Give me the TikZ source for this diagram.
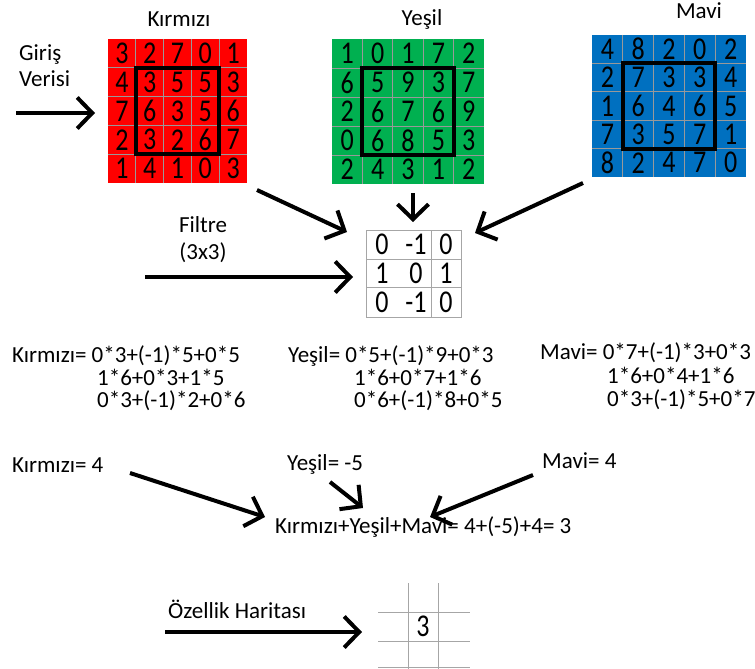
\documentclass[tikz,border=0pt]{standalone}
\usepackage{fontspec}
\usepackage{graphicx}
\setmainfont{Carlito}
\usetikzlibrary{arrows.meta, positioning, calc}
\definecolor{redch}{HTML}{FF0000}
\definecolor{greench}{HTML}{00B050}
\definecolor{bluech}{HTML}{0070C0}
\definecolor{gridgray}{HTML}{A6A6A6}
\newcommand{\tallnum}[1]{\scalebox{1}[1.22]{#1}}
\tikzset{
  txt/.style = {font=\fontsize{23}{23}\selectfont, inner sep=0pt, anchor=base west},
  digit/.style = {font=\fontsize{26}{26}\selectfont, inner sep=0pt},
  cell/.style = {black!40, line width=0.8pt},
  window/.style = {line width=4pt},
  bigarrow/.style = {line width=4pt, -{Straight Barb[length=15pt, width=31pt]}},
  filtergrid/.style = {gridgray, line width=1pt}
}

\begin{document}
\begin{tikzpicture}[x=1pt, y=-1pt]
  \useasboundingbox (0,0) rectangle (755,669);

  %% Input channels

  % Red
  \node[txt, anchor=base] (redtitle) at (179,27) {Kırmızı};
  \fill[redch] (108,39) rectangle (247,183);
  \foreach \k in {1,...,4} {
    \draw[cell] ({108+27.8*\k},39) -- ({108+27.8*\k},183);
    \draw[cell] (108,{39+28.8*\k}) -- (247,{39+28.8*\k});
  }
  \foreach \row [count=\r] in {{3,2,7,0,1},{4,3,5,5,3},{7,6,3,5,6},{2,3,2,6,7},{1,4,1,0,3}}
    \foreach \v [count=\c] in \row
      \node[digit] (red-\r-\c) at ({108+27.8*(\c-0.5)},{39+28.8*(\r-0.5)}) {\tallnum{\v}};
  \draw[window] (135.8,67.8) rectangle (219.2,154.2);

  % Green
  \node[txt, anchor=base] (greentitle) at (422,26) {Yeşil};
  \fill[greench] (332,39) rectangle (484,184);
  \foreach \k in {1,...,4} {
    \draw[cell] ({332+30.4*\k},39) -- ({332+30.4*\k},184);
    \draw[cell] (332,{39+29*\k}) -- (484,{39+29*\k});
  }
  \foreach \row [count=\r] in {{1,0,1,7,2},{6,5,9,3,7},{2,6,7,6,9},{0,6,8,5,3},{2,4,3,1,2}}
    \foreach \v [count=\c] in \row
      \node[digit] (green-\r-\c) at ({332+30.4*(\c-0.5)},{39+29*(\r-0.5)}) {\tallnum{\v}};
  \draw[window] (362.4,68) rectangle (453.6,155);

  % Blue
  \node[txt, anchor=base] (bluetitle) at (699,19) {Mavi};
  \fill[bluech] (592,35) rectangle (746,177);
  \foreach \k in {1,...,4} {
    \draw[cell] ({592+30.8*\k},35) -- ({592+30.8*\k},177);
    \draw[cell] (592,{35+28.4*\k}) -- (746,{35+28.4*\k});
  }
  \foreach \row [count=\r] in {{4,8,2,0,2},{2,7,3,3,4},{1,6,4,6,5},{7,3,5,7,1},{8,2,4,7,0}}
    \foreach \v [count=\c] in \row
      \node[digit] (blue-\r-\c) at ({592+30.8*(\c-0.5)},{35+28.4*(\r-0.5)}) {\tallnum{\v}};
  \draw[window] (622.8,63.4) rectangle (715.2,148.6);

  % Input label
  \node[txt] (inputA) at (19,60) {Giriş};
  \node[txt] (inputB) at (19,87) {Verisi};
  \coordinate (in-start) at (16,113);
  \coordinate (in-end) at (95,113);
  \draw[bigarrow] (in-start) -- (in-end);

  %% Filter
  \node[draw=gridgray, line width=1pt, minimum width=95pt, minimum height=87pt, inner sep=0pt] (filter) at (413.5,273.5) {};
  \draw[filtergrid] (431,230) -- (431,317);
  \draw[filtergrid] (366,259) -- (461,259);
  \draw[filtergrid] (366,287) -- (461,287);
  \foreach \row [count=\r] in {{0,-1,0},{1,0,1},{0,-1,0}}
    \foreach \v [count=\c] in \row {
      \pgfmathsetmacro{\xx}{{382,416,446}[\c-1]}
      \pgfmathsetmacro{\yy}{{244.5,273,302}[\r-1]}
      \node[digit] (filt-\r-\c) at (\xx,\yy) {\tallnum{\v}};
    }
  \node[txt, anchor=base] (filtA) at (203,232) {Filtre};
  \node[txt, anchor=base] (filtB) at (203,259) {(3x3)};
  \coordinate (filt-start) at (145,277);
  \coordinate (filt-end) at (353,277);
  \draw[bigarrow] (filt-start) -- (filt-end);

  % Channels to filter
  \coordinate (red-out) at (257,190);
  \coordinate (red-in) at (347,232);
  \coordinate (green-out) at (413,193);
  \coordinate (green-in) at (413,222);
  \coordinate (blue-out) at (583,183);
  \coordinate (blue-in) at (475,233);
  \draw[bigarrow] (red-out) -- (red-in);
  \draw[bigarrow] (green-out) -- (green-in);
  \draw[bigarrow] (blue-out) -- (blue-in);

  %% Products
  \node[txt] (redeqA) at (12,362) {Kırmızı= 0*3+(-1)*5+0*5};
  \node[txt] (redeqB) at (97,385) {1*6+0*3+1*5};
  \node[txt] (redeqC) at (97,407) {0*3+(-1)*2+0*6};
  \node[txt] (greeneqA) at (288,362) {Yeşil= 0*5+(-1)*9+0*3};
  \node[txt] (greeneqB) at (354,385) {1*6+0*7+1*6};
  \node[txt] (greeneqC) at (354,407) {0*6+(-1)*8+0*5};
  \node[txt] (blueeqA) at (540,359) {Mavi= 0*7+(-1)*3+0*3};
  \node[txt] (blueeqB) at (607,383) {1*6+0*4+1*6};
  \node[txt] (blueeqC) at (607,406) {0*3+(-1)*5+0*7};

  %% Sums
  \node[txt] (redval) at (12,472) {Kırmızı= 4};
  \node[txt] (greenval) at (287,470) {Yeşil= -5};
  \node[txt] (blueval) at (542,468) {Mavi= 4};
  \node[txt] (total) at (275,533) {Kırmızı+Yeşil+Mavi= 4+(-5)+4= 3};
  \coordinate (redval-out) at (130,473);
  \coordinate (redval-in) at (265,517);
  \coordinate (greenval-out) at (330,482);
  \coordinate (greenval-in) at (363,508);
  \coordinate (blueval-out) at (533,475);
  \coordinate (blueval-in) at (430,517);
  \draw[bigarrow] (redval-out) -- (redval-in);
  \draw[bigarrow] (greenval-out) -- (greenval-in);
  \draw[bigarrow] (blueval-out) -- (blueval-in);

  %% Feature map
  \node[txt] (maplabel) at (168,618) {Özellik Haritası};
  \coordinate (map-start) at (165,632);
  \coordinate (map-end) at (362,632);
  \draw[bigarrow] (map-start) -- (map-end);
  \draw[filtergrid] (408,583) -- (408,669);
  \draw[filtergrid] (438,583) -- (438,669);
  \draw[filtergrid] (378,612) -- (470,612);
  \draw[filtergrid] (378,641) -- (470,641);
  \draw[filtergrid] (378,667.5) -- (470,667.5);
  \node[digit] (map-value) at (423,626.5) {\tallnum{3}};

\end{tikzpicture}
\end{document}
